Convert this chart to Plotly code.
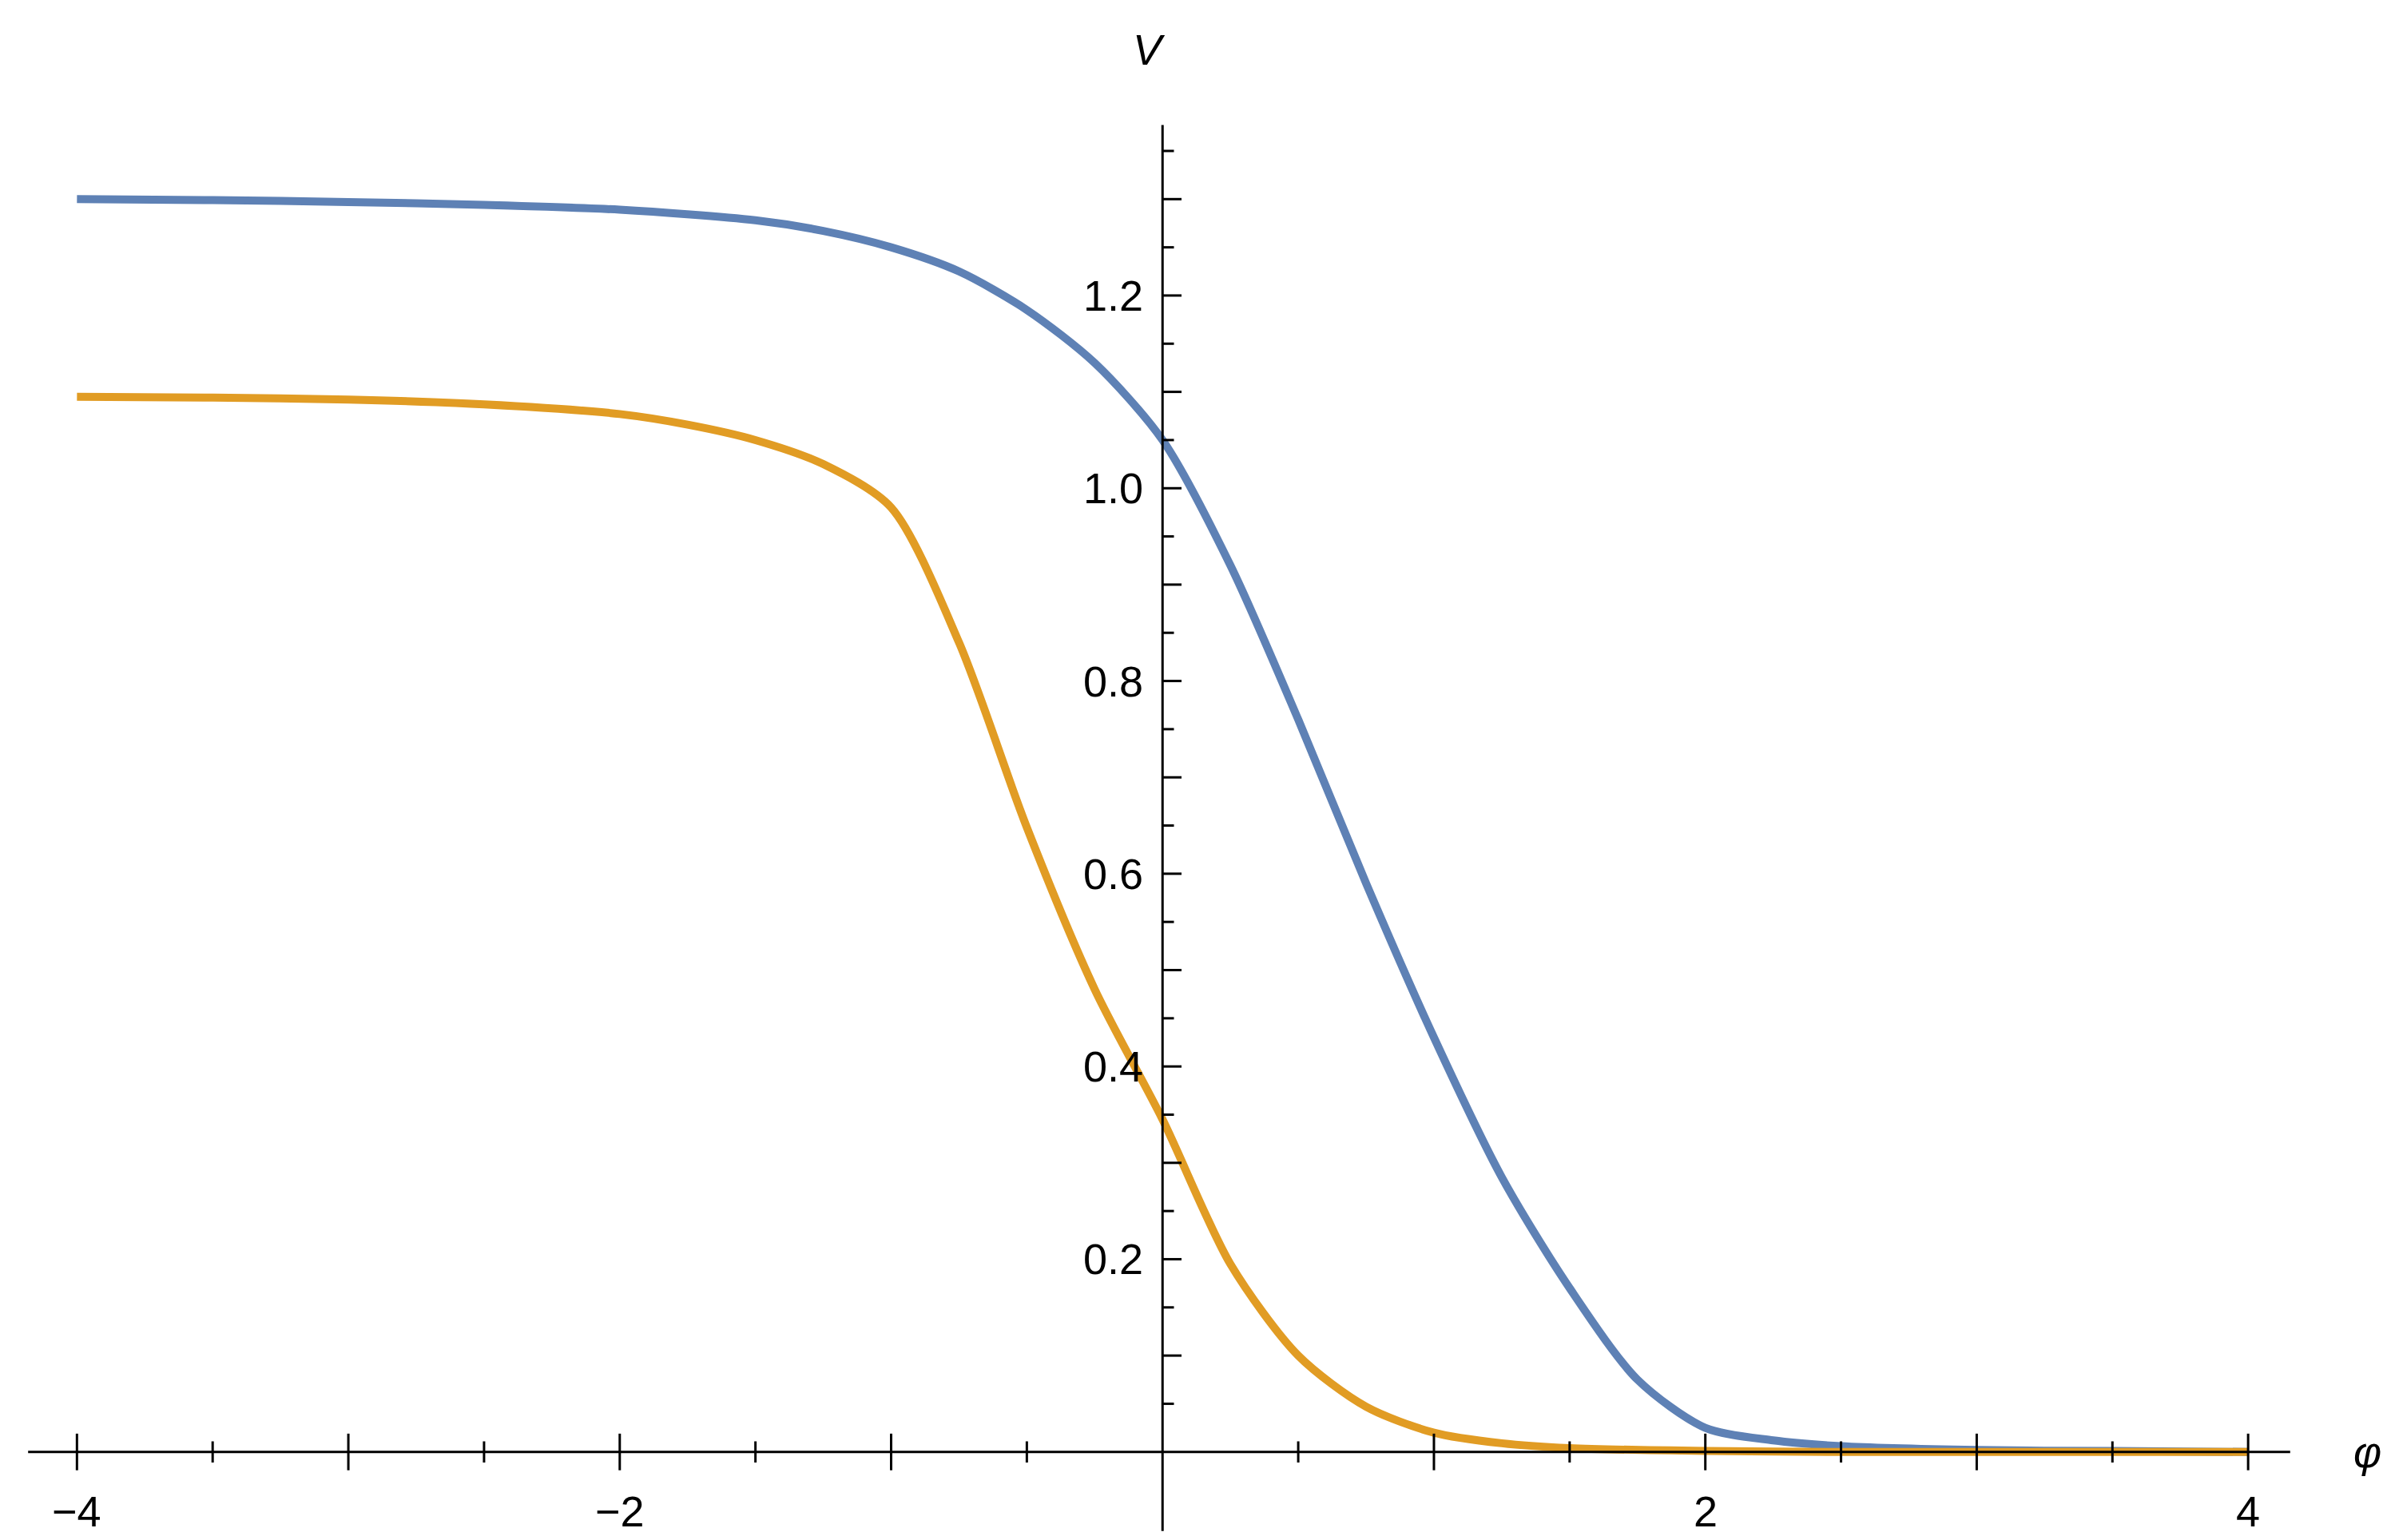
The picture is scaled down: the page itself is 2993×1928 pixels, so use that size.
import plotly.graph_objects as go
import numpy as np

blue_x = [-4, -3.5, -3, -2.5, -2, -1.5, -1.25, -1, -0.75, -0.5, -0.25, 0, 0.25, 0.5, 0.75, 1, 1.25, 1.5, 1.75, 2, 2.25, 2.5, 3, 3.5, 4]
blue_y = [1.300, 1.299, 1.297, 1.294, 1.289, 1.278, 1.267, 1.250, 1.225, 1.185, 1.130, 1.050, 0.92, 0.76, 0.59, 0.43, 0.285, 0.17, 0.075, 0.025, 0.012, 0.006, 0.002, 0.001, 0.0]
orange_x = [-4, -3.5, -3, -2.5, -2, -1.75, -1.5, -1.25, -1, -0.75, -0.5, -0.25, 0, 0.25, 0.5, 0.75, 1, 1.25, 1.5, 2, 2.5, 3, 4]
orange_y = [1.095, 1.094, 1.092, 1.087, 1.077, 1.066, 1.050, 1.025, 0.980, 0.84, 0.648, 0.48, 0.345, 0.195, 0.10, 0.047, 0.02, 0.009, 0.004, 0.001, 0.0, 0.0, 0.0]

x_major = [-4, -3, -2, -1, 1, 2, 3, 4]
x_labels = {-4: "−4", -2: "−2", 2: "2", 4: "4"}
x_minor = [-3.5, -2.5, -1.5, -0.5, 0.5, 1.5, 2.5, 3.5]
y_major = [0.1, 0.2, 0.3, 0.4, 0.5, 0.6, 0.7, 0.8, 0.9, 1.0, 1.1, 1.2, 1.3]
y_labels = [0.2, 0.4, 0.6, 0.8, 1.0, 1.2]
y_minor = [0.05, 0.15, 0.25, 0.35, 0.45, 0.55, 0.65, 0.75, 0.85, 0.95, 1.05, 1.15, 1.25, 1.35]

fig = go.Figure()
fig.add_trace(go.Scatter(x=blue_x, y=blue_y, mode="lines", line=dict(color="#5E81B5", width=10, shape="spline", smoothing=0.8)))
fig.add_trace(go.Scatter(x=orange_x, y=orange_y, mode="lines", line=dict(color="#E19C24", width=10, shape="spline", smoothing=0.8)))

shapes = []
ax = dict(type="line", line=dict(color="black", width=3), layer="above")
shapes.append(dict(ax, x0=-4.18, x1=4.155, y0=0, y1=0))
shapes.append(dict(ax, x0=0, x1=0, y0=-0.082, y1=1.377))
for t in x_major:
    shapes.append(dict(ax, x0=t, x1=t, y0=-0.019, y1=0.019))
for t in x_minor:
    shapes.append(dict(ax, x0=t, x1=t, y0=-0.011, y1=0.011))
for t in y_major:
    shapes.append(dict(ax, x0=0, x1=0.07, y0=t, y1=t))
for t in y_minor:
    shapes.append(dict(ax, x0=0, x1=0.042, y0=t, y1=t))

font = dict(family="Liberation Sans, Arial", size=54, color="black")
ann = []
for t, s in x_labels.items():
    ann.append(dict(x=t, y=-0.035, text=s, showarrow=False, yanchor="top", font=font))
for t in y_labels:
    ann.append(dict(x=-0.065, y=t, text=f"{t:.1f}", showarrow=False, xanchor="right", font=font))
ann.append(dict(x=4.44, y=0, text="<i>φ</i>", showarrow=False, font=font))
ann.append(dict(x=-0.05, y=1.455, text="<i>V</i>", showarrow=False, font=font))

fig.update_layout(
    width=2993, height=1928, margin=dict(l=0, r=0, t=0, b=0),
    paper_bgcolor="white", plot_bgcolor="white", showlegend=False,
    xaxis=dict(range=[-4.26, 4.55], visible=False),
    yaxis=dict(range=[-0.098, 1.50], visible=False),
    shapes=shapes, annotations=ann,
)
fig.write_html("out.html")
